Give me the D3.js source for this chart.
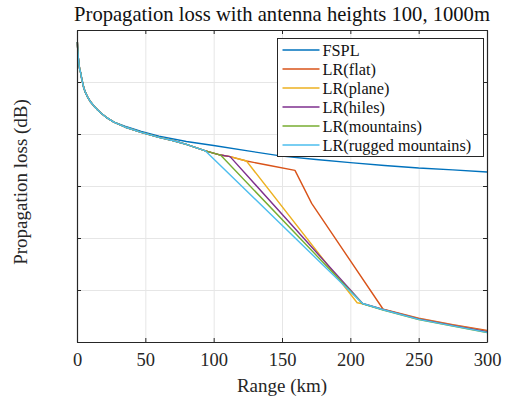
<!DOCTYPE html>
<html>
<head>
<meta charset="utf-8">
<script src="https://cdn.jsdelivr.net/npm/d3@7"></script>
<style>
  html, body { margin: 0; padding: 0; background: #fff; }
  svg { display: block; font-family: "Liberation Serif", "Times New Roman", serif; }
</style>
</head>
<body>
<div id="chart"></div>
<script>
// Values (range km, loss dB; y ticks carry no labels)
const xTicks = [0, 50, 100, 150, 200, 250, 300];
const yTicks = [-180, -160, -140, -120, -100, -80, -60];

const fsplRange = [0.25, 0.4, 0.7, 1, 1.5, 2, 2.7, 3.5, 5, 6, 7.5, 10, 12.5, 15, 17.5, 20, 22, 27, 35, 47, 60, 80, 100, 125, 150, 175, 200, 225, 250, 275, 300];
const fsplLoss = [-64.6, -66.2, -68.5, -70.8, -73.3, -75.2, -76.5, -78.9, -82.3, -83.8, -85.5, -87.7, -89.3, -90.7, -91.9, -93.0, -93.8, -95.4, -97.0, -99.0, -100.8, -102.9, -104.4, -106.5, -108.5, -109.8, -111.0, -112.1, -113.1, -113.8, -114.6];

// shared early part of the Longley-Rice curves
const lrRange = [0.25, 0.4, 0.7, 1, 1.5, 2, 2.7, 3.5, 5, 6, 7.5, 10, 12.5, 15, 17.5, 20, 22, 27, 35, 47, 60, 70, 80, 94];
const lrLoss = [-64.6, -66.2, -68.5, -70.8, -73.3, -75.2, -76.5, -78.9, -82.3, -83.8, -85.5, -87.7, -89.3, -90.7, -91.9, -93.0, -93.8, -95.4, -97.3, -99.4, -101.3, -102.5, -104.0, -106.5];

const flatRange = [105, 112, 124, 140, 159.5, 171.7, 224, 250, 275, 300];
const flatLoss = [-108.1, -108.7, -110.4, -112.0, -114.0, -126.7, -167.4, -170.8, -173.3, -175.6];

const planeRange = [105, 112, 124, 205, 209, 224, 250, 275, 300];
const planeLoss = [-108.1, -108.7, -110.4, -164.9, -165.3, -167.5, -171.0, -173.5, -175.9];

const hilesRange = [105, 112, 209, 224, 250, 275, 300];
const hilesLoss = [-108.1, -108.7, -165.2, -167.5, -171.1, -173.6, -176.0];

const mountRange = [105, 209, 224, 250, 275, 300];
const mountLoss = [-108.1, -165.3, -167.7, -171.4, -173.9, -176.4];

const ruggedRange = [209, 224, 250, 275, 300];
const ruggedLoss = [-165.2, -167.6, -171.3, -173.8, -176.3];

const seriesNames = ['FSPL', 'LR(flat)', 'LR(plane)', 'LR(hiles)', 'LR(mountains)', 'LR(rugged mountains)'];
const colors = ['#0072BD', '#D95319', '#EDB120', '#7E2F8E', '#77AC30', '#4DBEEE'];

const width = 512, height = 398;
const margin = { top: 30, right: 25, bottom: 56, left: 77 };
const plotW = width - margin.left - margin.right;
const plotH = height - margin.top - margin.bottom;

const zip = (xs, ys) => xs.map((x, i) => ({ x, y: ys[i] }));
const series = [
  zip(fsplRange, fsplLoss),
  zip(lrRange.concat(flatRange), lrLoss.concat(flatLoss)),
  zip(lrRange.concat(planeRange), lrLoss.concat(planeLoss)),
  zip(lrRange.concat(hilesRange), lrLoss.concat(hilesLoss)),
  zip(lrRange.concat(mountRange), lrLoss.concat(mountLoss)),
  zip(lrRange.concat(ruggedRange), lrLoss.concat(ruggedLoss))
];

const x = d3.scaleLinear().domain([0, 300]).range([0, plotW]);
const y = d3.scaleLinear().domain([-180, -60]).range([plotH, 0]);

const svg = d3.select('#chart').append('svg')
  .attr('width', width)
  .attr('height', height);

const g = svg.append('g').attr('transform', `translate(${margin.left},${margin.top})`);

// grid
g.append('g').selectAll('line')
  .data(xTicks.slice(1, -1))
  .join('line')
  .attr('x1', d => x(d) + 0.5).attr('x2', d => x(d) + 0.5)
  .attr('y1', 0).attr('y2', plotH)
  .attr('stroke', '#e6e6e6').attr('stroke-width', 1);
g.append('g').selectAll('line')
  .data(yTicks.slice(1, -1))
  .join('line')
  .attr('y1', d => Math.round(y(d)) + 0.5).attr('y2', d => Math.round(y(d)) + 0.5)
  .attr('x1', 0).attr('x2', plotW)
  .attr('stroke', '#e6e6e6').attr('stroke-width', 1);

// lines
const line = d3.line().x(d => x(d.x)).y(d => y(d.y));
g.append('g').selectAll('path')
  .data(series)
  .join('path')
  .attr('d', line)
  .attr('fill', 'none')
  .attr('stroke', (d, i) => colors[i])
  .attr('stroke-width', 1.4)
  .attr('stroke-linejoin', 'round');

// axes, ticks pointing inward on all four sides
const axisColor = '#262626';
const axBottom = g.append('g').attr('transform', `translate(0,${plotH})`)
  .call(d3.axisBottom(x).tickValues(xTicks).tickSizeInner(-4).tickSizeOuter(0).tickPadding(11));
const axTop = g.append('g')
  .call(d3.axisTop(x).tickValues(xTicks).tickSizeInner(-4).tickSizeOuter(0).tickFormat(''));
const axLeft = g.append('g')
  .call(d3.axisLeft(y).tickValues(yTicks).tickSizeInner(-4).tickSizeOuter(0).tickFormat(''));
const axRight = g.append('g').attr('transform', `translate(${plotW},0)`)
  .call(d3.axisRight(y).tickValues(yTicks).tickSizeInner(-4).tickSizeOuter(0).tickFormat(''));

[axBottom, axTop, axLeft, axRight].forEach(a => {
  a.selectAll('path, line').attr('stroke', axisColor);
  a.select('.domain').attr('stroke-width', 1.2);
});
axBottom.selectAll('text')
  .attr('font-family', '"Liberation Serif", serif')
  .attr('font-size', 18.5)
  .attr('fill', axisColor);

// titles
svg.append('text')
  .attr('x', margin.left + plotW / 2)
  .attr('y', 21)
  .attr('text-anchor', 'middle')
  .attr('font-size', 20.6)
  .attr('fill', '#111')
  .text('Propagation loss with antenna heights 100, 1000m');

svg.append('text')
  .attr('x', margin.left + plotW / 2)
  .attr('y', 392)
  .attr('text-anchor', 'middle')
  .attr('font-size', 19)
  .attr('fill', axisColor)
  .text('Range (km)');

svg.append('text')
  .attr('transform', `translate(27,182) rotate(-90)`)
  .attr('text-anchor', 'middle')
  .attr('font-size', 19)
  .attr('fill', axisColor)
  .text('Propagation loss (dB)');

// legend box in the upper right
const legend = svg.append('g').attr('transform', 'translate(277.5,38.5)');
legend.append('rect')
  .attr('width', 206)
  .attr('height', 118)
  .attr('fill', '#fff')
  .attr('stroke', axisColor)
  .attr('stroke-width', 1);

legend.selectAll('g')
  .data(seriesNames)
  .join('g')
  .attr('transform', (d, i) => `translate(0,${11.5 + i * 19})`)
  .each(function(d, i) {
    const row = d3.select(this);
    row.append('line')
      .attr('x1', 5).attr('x2', 42)
      .attr('stroke', colors[i])
      .attr('stroke-width', 1.4);
    row.append('text')
      .attr('x', 45)
      .attr('y', 5.5)
      .attr('font-size', 16.3)
      .attr('fill', '#111')
      .text(d);
  });
</script>
</body>
</html>
